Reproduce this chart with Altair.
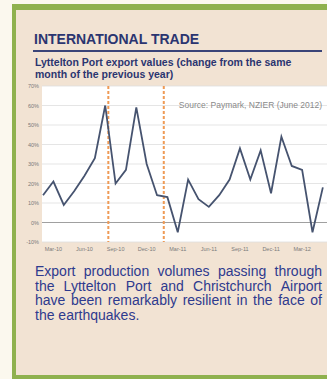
import altair as alt
import pandas as pd

# ---------------- data ----------------
months = ["Feb-10", "Mar-10", "Apr-10", "May-10", "Jun-10", "Jul-10", "Aug-10", "Sep-10",
          "Oct-10", "Nov-10", "Dec-10", "Jan-11", "Feb-11", "Mar-11", "Apr-11", "May-11",
          "Jun-11", "Jul-11", "Aug-11", "Sep-11", "Oct-11", "Nov-11", "Dec-11", "Jan-12",
          "Feb-12", "Mar-12", "Apr-12", "May-12"]
values = [14, 21, 9, 16, 24, 33, 60, 20, 27, 59, 30,
          14, 13, -5, 22, 12, 8, 14, 22, 38, 22, 37, 15,
          44, 29, 27, -5, 18]
quake_pos = [6.3, 11.65]          # earthquake markers (Sep-2010, Feb-2011), in month index units
tick_idx = [1, 4, 7, 10, 13, 16, 19, 22, 25]
y_ticks = [-10, 0, 10, 20, 30, 40, 50, 60, 70]

title_text = "INTERNATIONAL TRADE"
subtitle_lines = ["Lyttelton Port export values (change from the same",
                  "month of the previous year)"]
source_text = "Source: Paymark, NZIER (June 2012)"
body_lines = ["Export production volumes passing through",
              "the Lyttelton Port and Christchurch Airport",
              "have been remarkably resilient in the face of",
              "the earthquakes."]

# ---------------- layout ----------------
L, T = 42, 86          # plot origin in page pixels
W, H = 285, 156        # plot size
TOTAL_W, TOTAL_H = 327, 379

NAVY = "#2b3570"
BODY = "#2e3a8e"
FONT = "Liberation Sans"
AXIS_GREY = "#7a7a7a"

def rx(v):
    return v - L

def ry(v):
    return v - T

df = pd.DataFrame({"idx": list(range(len(months))), "month": months, "value": values})

x_scale = alt.Scale(domain=[-0.1, 27.4], nice=False, zero=False)
y_scale = alt.Scale(domain=[-10, 70], nice=False, zero=False)

one = alt.Data(values=[{"k": 1}])

def rect(x1, x2, y1, y2, color):
    return alt.Chart(one).mark_rect(color=color).encode(
        x=alt.value(x1), x2=alt.value(x2), y=alt.value(y1), y2=alt.value(y2))

green = rect(rx(12), rx(340), ry(4), ry(385), "#8fb14e")
beige = rect(rx(16), rx(340), ry(10), ry(375), "#f2e3d3")
plotbg = rect(0, W, 0, H, "#ffffff")

grid = alt.Chart(pd.DataFrame({"value": y_ticks})).mark_rule(
    color="#dedede", strokeWidth=0.8).encode(
    y=alt.Y("value:Q", scale=y_scale, axis=None))

zero = alt.Chart(pd.DataFrame({"value": [0]})).mark_rule(
    color="#a0a0a0", strokeWidth=1).encode(
    y=alt.Y("value:Q", scale=y_scale, axis=None))

quakes = alt.Chart(pd.DataFrame({"idx": quake_pos})).mark_rule(
    color="#ef9a55", strokeWidth=2, strokeDash=[3, 2]).encode(
    x=alt.X("idx:Q", scale=x_scale, axis=None))

line = alt.Chart(df).mark_line(color="#46536f", strokeWidth=1.8).encode(
    x=alt.X("idx:Q", scale=x_scale, axis=None),
    y=alt.Y("value:Q", scale=y_scale, axis=None),
)

# axis labels (drawn as text so they sit above the decorative panels)
ylab_df = pd.DataFrame({"value": y_ticks, "lab": [str(v) + "%" for v in y_ticks]})
ylabels = alt.Chart(ylab_df).mark_text(
    fontSize=5.5, font=FONT, color=AXIS_GREY, align="right", baseline="middle").encode(
    x=alt.value(-3), y=alt.Y("value:Q", scale=y_scale, axis=None), text="lab:N")

xlab_df = pd.DataFrame({"idx": tick_idx, "lab": [months[i] for i in tick_idx]})
xlabels = alt.Chart(xlab_df).mark_text(
    fontSize=5.5, font=FONT, color=AXIS_GREY, align="center", baseline="middle").encode(
    x=alt.X("idx:Q", scale=x_scale, axis=None), y=alt.value(H + 7), text="lab:N")

def text(s, x, y, size, color, weight="normal", align="left", baseline="alphabetic"):
    return alt.Chart(one).mark_text(
        text=s, fontSize=size, font=FONT, fontWeight=weight, color=color,
        align=align, baseline=baseline).encode(x=alt.value(x), y=alt.value(y))

source = text(source_text, rx(322), ry(105), 8.5, "#8a8a8a", baseline="middle", align="right")
title = text(title_text, rx(34), ry(44), 14, NAVY, weight="bold")
title_rule = alt.Chart(one).mark_rule(color="#3a4478", strokeWidth=2).encode(
    x=alt.value(rx(33)), x2=alt.value(rx(322)), y=alt.value(ry(51)))
sub1 = text(subtitle_lines[0], rx(35), ry(66), 10.5, NAVY, weight="bold")
sub2 = text(subtitle_lines[1], rx(35), ry(78), 10.5, NAVY, weight="bold")

# justified body text (Arial / Liberation Sans advance widths, per 1000 em)
AW = {"a": 556, "b": 556, "c": 500, "d": 556, "e": 556, "f": 278, "g": 556, "h": 556,
      "i": 222, "j": 222, "k": 500, "l": 222, "m": 833, "n": 556, "o": 556, "p": 556,
      "q": 556, "r": 333, "s": 500, "t": 278, "u": 556, "v": 500, "w": 722, "x": 500,
      "y": 500, "z": 500, "E": 667, "L": 556, "P": 667, "C": 722, "A": 667, " ": 278, ".": 278}
BODY_SIZE = 14
BODY_X0, BODY_X1 = 35, 322
body_base = [276, 290.5, 305, 319.5]

rows = []
for i, ln in enumerate(body_lines):
    words = ln.split(" ")
    widths = [sum(AW.get(c, 556) for c in w) * BODY_SIZE / 1000 for w in words]
    if i < len(body_lines) - 1 and len(words) > 1:
        gap = (BODY_X1 - BODY_X0 - sum(widths)) / (len(words) - 1)
    else:
        gap = AW[" "] * BODY_SIZE / 1000
    x = BODY_X0
    for w, wd in zip(words, widths):
        rows.append({"w": w, "bx": rx(x), "by": ry(body_base[i])})
        x += wd + gap

body = alt.Chart(pd.DataFrame(rows)).mark_text(
    fontSize=BODY_SIZE, font=FONT, color=BODY, align="left", baseline="alphabetic").encode(
    x=alt.X("bx:Q", scale=None, axis=None),
    y=alt.Y("by:Q", scale=None, axis=None),
    text="w:N")

chart = alt.layer(
    green, beige, plotbg, grid, zero, quakes, line, ylabels, xlabels, source,
    title, title_rule, sub1, sub2, body
).properties(
    width=W, height=H,
    autosize=alt.AutoSizeParams(type="none"),
    padding={"left": L, "top": T, "right": TOTAL_W - L - W, "bottom": TOTAL_H - T - H},
    background="#fbf8ee",
).configure_view(stroke=None, fill=None)

chart.save("out.html", embed_options={"renderer": "svg", "actions": False})
